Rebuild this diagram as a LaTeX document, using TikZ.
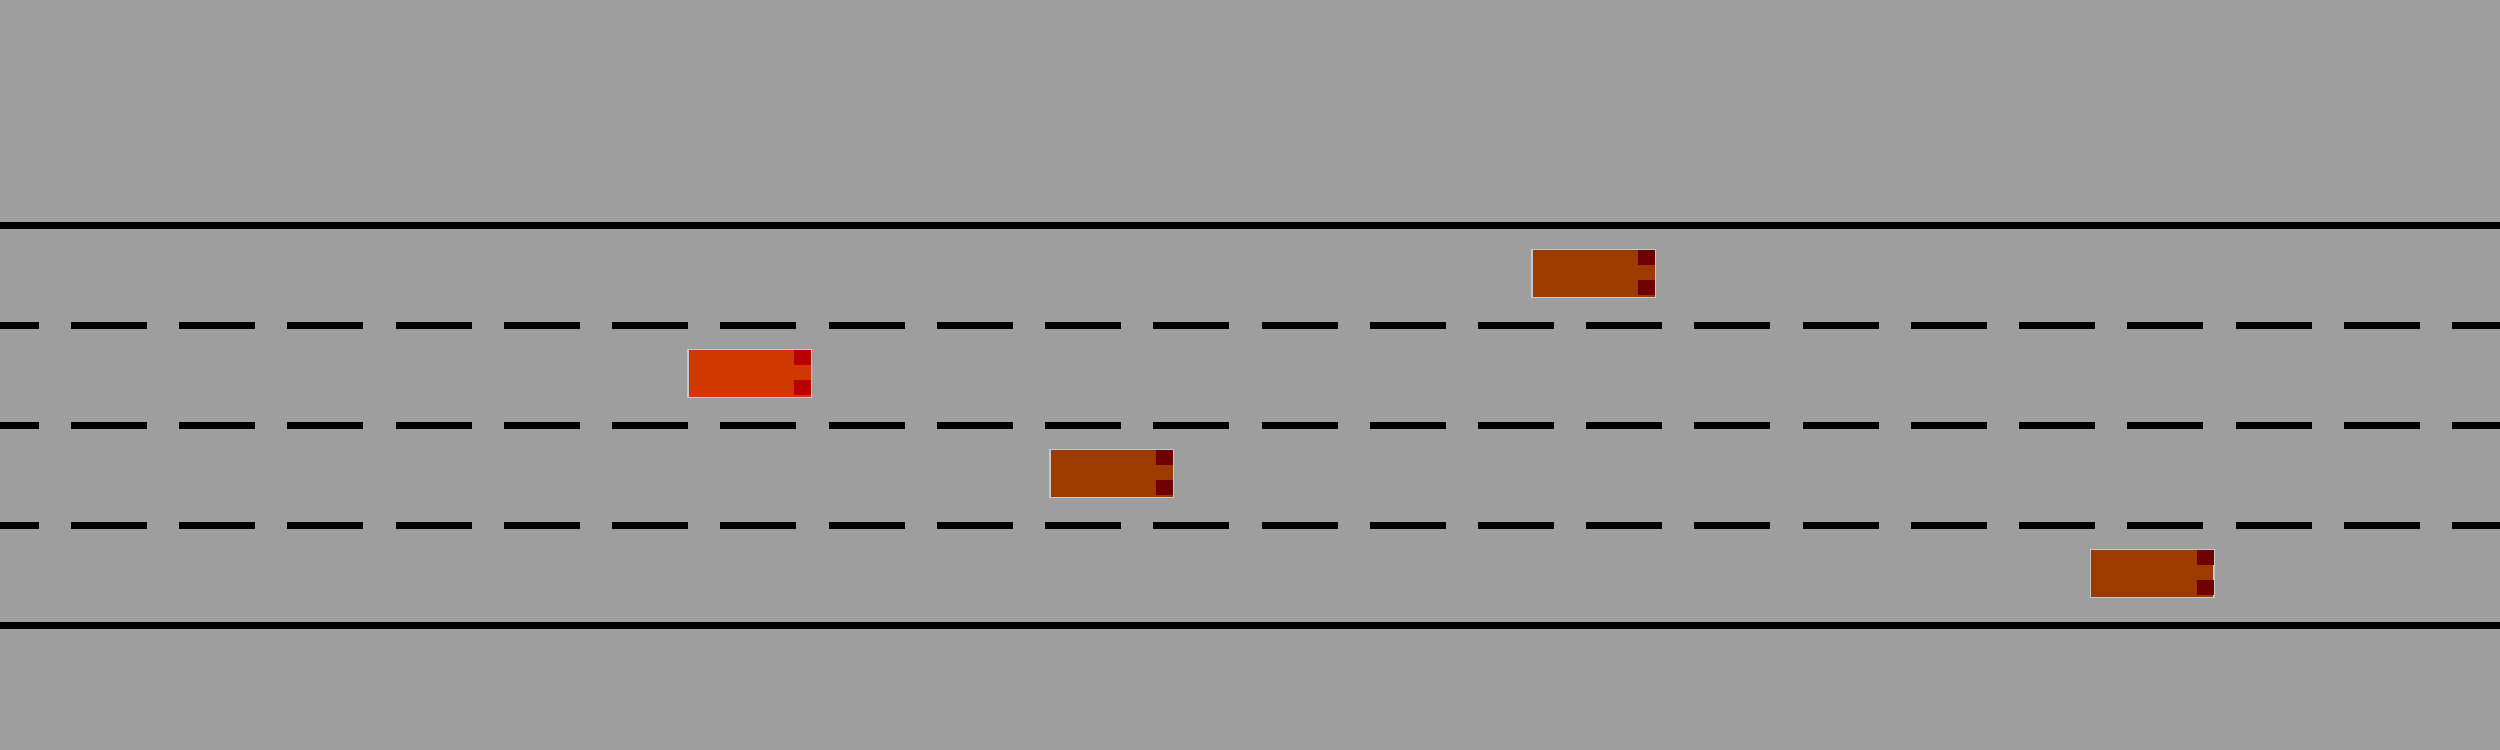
\documentclass[tikz,border=0pt]{standalone}
\usetikzlibrary{calc}
\definecolor{road}{RGB}{158,158,158}
\definecolor{egocar}{RGB}{208,56,0}
\definecolor{egolight}{RGB}{184,0,0}
\definecolor{othercar}{RGB}{156,58,0}
\definecolor{otherlight}{RGB}{112,0,0}
\definecolor{carrim}{RGB}{200,200,200}
\tikzset{
  solidline/.style={line width=0.7mm, black},
  laneline/.style={line width=0.7mm, black, dash pattern=on 7.6mm off 3.223mm, dash phase=3.72mm},
  carbox/.style={rectangle, inner sep=0pt, minimum width=12.32mm, minimum height=4.81mm, draw=carrim, line width=0.12mm},
  ego/.style={carbox, fill=egocar},
  other/.style={carbox, fill=othercar},
}
\newcommand{\carlights}[2]{%
  \fill[#2] ($(#1.north east)+(-17.6,1.2)$) rectangle ++(17,15);
  \fill[#2] ($(#1.north east)+(-17.6,30.5)$) rectangle ++(17,15);
}
\begin{document}
\begin{tikzpicture}[x=0.1mm,y=-0.1mm]
\fill[road] (0,0) rectangle (2500,750);
\useasboundingbox (0,0) rectangle (2500,750);
\coordinate (t0) at (0,225.5);   \coordinate (t1) at (2500,225.5);
\coordinate (d10) at (0,325.5);  \coordinate (d11) at (2500,325.5);
\coordinate (d20) at (0,425.5);  \coordinate (d21) at (2500,425.5);
\coordinate (d30) at (0,525.5);  \coordinate (d31) at (2500,525.5);
\coordinate (b0) at (0,625.5);   \coordinate (b1) at (2500,625.5);
\draw[solidline] (t0) -- (t1);
\draw[laneline] (d10) -- (d11);
\draw[laneline] (d20) -- (d21);
\draw[laneline] (d30) -- (d31);
\draw[solidline] (b0) -- (b1);
\node[ego] (egov) at (749.5,373.7) {};
\carlights{egov}{egolight}
\node[other] (car2) at (1111.5,473.7) {};
\carlights{car2}{otherlight}
\node[other] (car3) at (1593.5,273.7) {};
\carlights{car3}{otherlight}
\node[other] (car4) at (2152.3,573.7) {};
\carlights{car4}{otherlight}
\end{tikzpicture}
\end{document}
